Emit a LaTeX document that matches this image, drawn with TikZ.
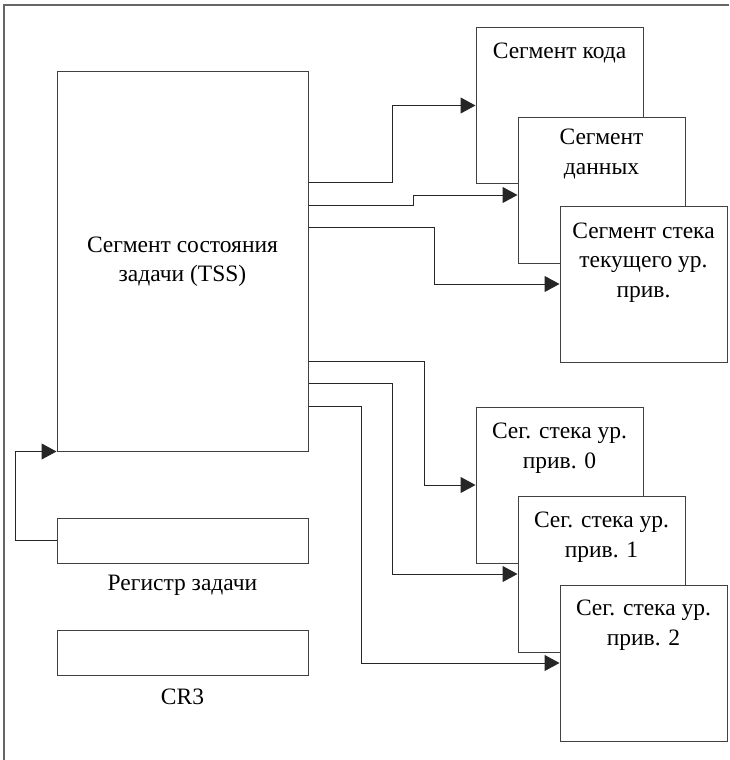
\documentclass[tikz,border=0pt]{standalone}
\usepackage{fontspec}
\setmainfont{Liberation Serif}
\usetikzlibrary{arrows.meta}
\begin{document}
\begin{tikzpicture}[x=1pt,y=-1pt,
  every node/.style={font=\fontsize{23.5}{29.5}\selectfont},
  box/.style={draw=black!75,line width=1pt,fill=white,inner sep=0pt,minimum width=#1},
  box/.default=167pt,
  txt/.style={align=center,inner sep=0pt},
  arr/.style={draw=black!85,line width=1pt,-{Triangle[length=15pt,width=16pt]}},
  frame/.style={draw=black!60,line width=1.3pt}]
\useasboundingbox (0,0) rectangle (729,760);
% outer frame (only its top and left sides fall inside the page)
\coordinate (fr) at (4,5);
\draw[frame] (729,5) -- (fr) -- (4,760);

% task state segment and registers
\node[box=251pt,minimum height=379pt,txt] (tss) at (182.5,261.5)
  {Сегмент состояния\\задачи (TSS)};
\node[box=251pt,minimum height=45pt] (reg) at (182.5,540.5) {};
\node[txt] (reglbl) at (182.5,585) {Регистр задачи};
\node[box=251pt,minimum height=45pt] (cr3) at (182.5,652.5) {};
\node[txt] (cr3lbl) at (182.5,697) {CR3};

% code, data and current-level stack segments
\node[box,minimum height=156pt] (code) at (559.5,105.5) {};
\node[txt] (codelbl) at (559.5,53) {Сегмент кода};
\node[box,minimum height=146pt] (data) at (601.5,190) {};
\node[txt] (datalbl) at (601.5,154) {Сегмент\\данных};
\node[box,minimum height=156pt] (stack) at (643.5,284) {};
\node[txt] (stacklbl) at (643.5,262.5) {Сегмент стека\\текущего ур.\\прив.};

% stack segments for privilege levels 0, 1, 2
\node[box,minimum height=156pt] (s0) at (559.5,485) {};
\node[txt] (s0lbl) at (559.5,448) {Сег. стека ур.\\прив. 0};
\node[box,minimum height=156pt] (s1) at (601.5,574) {};
\node[txt] (s1lbl) at (601.5,537) {Сег. стека ур.\\прив. 1};
\node[box,minimum height=156pt] (s2) at (643.5,663) {};
\node[txt] (s2lbl) at (643.5,625) {Сег. стека ур.\\прив. 2};

% links from the TSS
\draw[arr] ([yshift=-111pt]tss.north east) -- ++(84,0) |- (code.west);
\draw[arr] ([yshift=-134pt]tss.north east) -- ++(105,0) |- ([yshift=-5pt]data.west);
\draw[arr] ([yshift=-156pt]tss.north east) -- ++(126,0) |- (stack.west);
\draw[arr] ([yshift=-290pt]tss.north east) -- ++(116,0) |- (s0.west);
\draw[arr] ([yshift=-312pt]tss.north east) -- ++(84,0) |- (s1.west);
\draw[arr] ([yshift=-335pt]tss.north east) -- ++(53,0) |- (s2.west);

% task register points to the TSS
\draw[arr] (reg.west) -- ++(-41,0) |- (tss.south west);
\end{tikzpicture}
\end{document}
